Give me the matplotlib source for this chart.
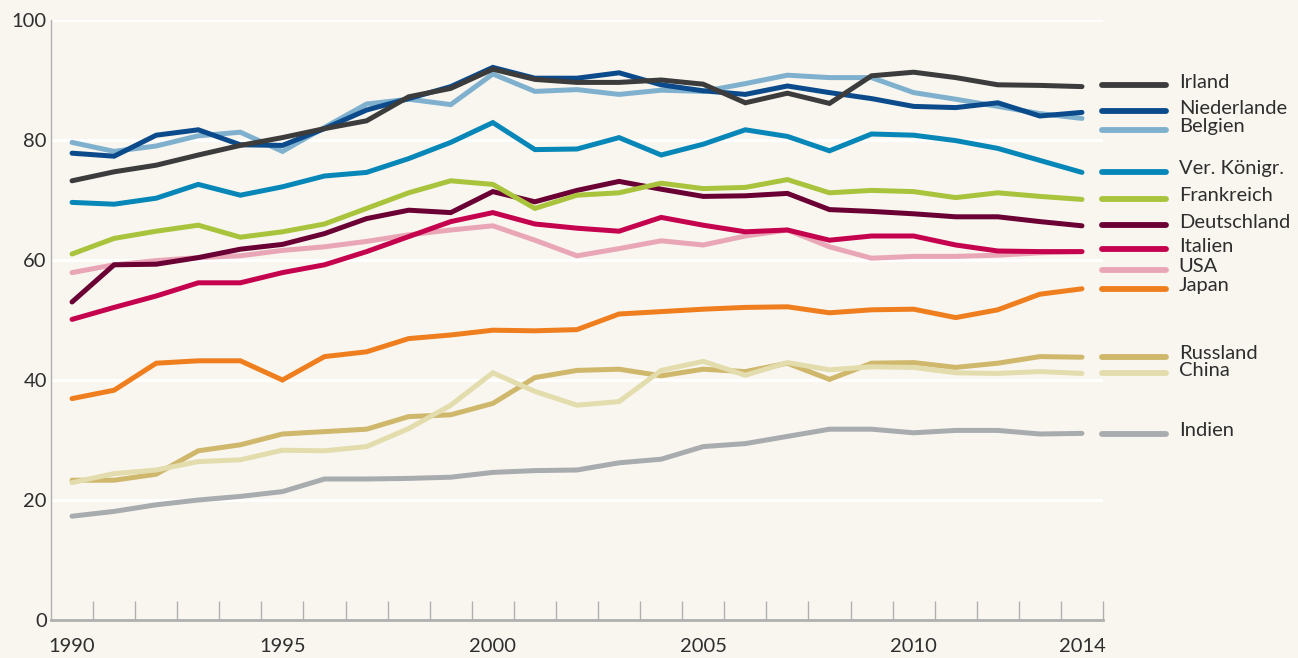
import numpy as np
import matplotlib.pyplot as plt

plt.rcParams['font.family'] = ['Lato', 'DejaVu Sans']

years = np.arange(1990, 2015)

irland = [73.2, 74.7, 75.8, 77.5, 79.1, 80.4, 81.9, 83.2, 87.2, 88.6, 91.8, 90.1,
          89.6, 89.6, 90.0, 89.3, 86.2, 87.8, 86.1, 90.7, 91.3, 90.4, 89.2, 89.1, 88.9]
niederlande = [77.8, 77.3, 80.8, 81.7, 79.2, 79.1, 81.9, 85.0, 86.9, 88.9, 92.1, 90.3,
               90.3, 91.2, 89.2, 88.2, 87.6, 89.0, 87.9, 86.9, 85.6, 85.4, 86.2, 84.0, 84.6]
belgien = [79.6, 78.1, 79.0, 80.7, 81.3, 78.1, 82.1, 86.0, 86.8, 85.9, 91.0, 88.1,
           88.4, 87.6, 88.3, 88.1, 89.4, 90.8, 90.4, 90.4, 87.9, 86.8, 85.6, 84.4, 83.6]
vk = [69.6, 69.3, 70.3, 72.6, 70.8, 72.2, 74.0, 74.6, 76.9, 79.6, 82.9, 78.4,
      78.5, 80.4, 77.5, 79.3, 81.7, 80.6, 78.2, 81.0, 80.8, 79.9, 78.6, 76.6, 74.6]
frankreich = [61.0, 63.6, 64.8, 65.8, 63.8, 64.7, 66.0, 68.6, 71.2, 73.2, 72.6, 68.6,
              70.8, 71.2, 72.8, 71.9, 72.1, 73.4, 71.2, 71.6, 71.4, 70.4, 71.2, 70.6, 70.1]
deutschland = [53.0, 59.2, 59.3, 60.4, 61.8, 62.6, 64.4, 66.9, 68.3, 67.9, 71.4, 69.7,
               71.6, 73.1, 71.8, 70.6, 70.7, 71.1, 68.4, 68.1, 67.7, 67.2, 67.2, 66.4, 65.7]
italien = [50.1, 52.1, 54.0, 56.2, 56.2, 57.9, 59.2, 61.4, 63.9, 66.4, 67.9, 66.0,
           65.3, 64.8, 67.1, 65.8, 64.7, 65.0, 63.3, 64.0, 64.0, 62.5, 61.5, 61.4, 61.4]
usa = [57.9, 59.2, 59.9, 60.4, 60.7, 61.6, 62.2, 63.1, 64.2, 65.0, 65.7, 63.3,
       60.7, 61.9, 63.2, 62.5, 64.0, 65.0, 62.2, 60.3, 60.6, 60.6, 60.8, 61.2, 61.4]
japan = [36.9, 38.3, 42.8, 43.2, 43.2, 40.0, 43.9, 44.7, 46.9, 47.5, 48.3, 48.2,
         48.4, 51.0, 51.4, 51.8, 52.1, 52.2, 51.2, 51.7, 51.8, 50.4, 51.7, 54.3, 55.2]
russland = [23.3, 23.3, 24.3, 28.2, 29.2, 31.0, 31.4, 31.8, 33.9, 34.2, 36.1, 40.4,
            41.6, 41.8, 40.7, 41.8, 41.4, 42.8, 40.1, 42.8, 42.9, 42.1, 42.8, 43.9, 43.8]
china = [22.9, 24.4, 25.0, 26.4, 26.7, 28.3, 28.2, 28.9, 31.9, 35.8, 41.2, 38.1,
         35.8, 36.4, 41.6, 43.1, 40.8, 42.9, 41.7, 42.2, 42.1, 41.2, 41.1, 41.4, 41.1]
indien = [17.3, 18.1, 19.2, 20.0, 20.6, 21.4, 23.5, 23.5, 23.6, 23.8, 24.6, 24.9,
          25.0, 26.2, 26.8, 28.9, 29.4, 30.6, 31.8, 31.8, 31.2, 31.6, 31.6, 31.0, 31.1]

names = ['Irland', 'Niederlande', 'Belgien', 'Ver. Königr.', 'Frankreich', 'Deutschland',
         'Italien', 'USA', 'Japan', 'Russland', 'China', 'Indien']
series = [irland, niederlande, belgien, vk, frankreich, deutschland,
          italien, usa, japan, russland, china, indien]
colors = ['#3c3c3c', '#0b4a8b', '#7fb1cf', '#0787b8', '#a9c43c', '#6a0033',
          '#c5024e', '#e9a6b6', '#ef7f1e', '#cfb76b', '#e3dcad', '#a9acaf']
# where the labels sit on the right (layout, not data)
label_y = [89.1, 84.8, 81.7, 74.7, 70.2, 65.8, 61.8, 58.4, 55.2, 43.9, 41.1, 31.0]
draw_order = [11, 9, 10, 8, 7, 6, 5, 4, 3, 2, 1, 0]

bg = '#f8f6ef'
fig = plt.figure(figsize=(12.98, 6.58), dpi=100, facecolor=bg)
ax = fig.add_axes([51/1298, 38/658, 1052/1298, 600/658])
ax.set_facecolor(bg)

for yv in [20, 40, 60, 80, 100]:
    ax.axhline(yv, color='white', lw=2.2, zorder=1)

for i in draw_order:
    ax.plot(years, series[i], color=colors[i], lw=3.6, solid_capstyle='round',
            solid_joinstyle='miter', zorder=3)

# labels on the right side
for i in range(len(names)):
    ax.plot([2014.48, 2016.0], [label_y[i], label_y[i]], color=colors[i], lw=4.2,
            solid_capstyle='round', clip_on=False, zorder=3)
    ax.text(2016.3, label_y[i] + 0.5, names[i], va='center', ha='left', fontsize=14.5,
            color='#2e2e2e')

ax.set_xlim(1989.5, 2014.5)
ax.set_ylim(0, 100)
ax.set_yticks([0, 20, 40, 60, 80, 100])
ax.tick_params(axis='y', length=0, labelsize=14.5, labelcolor='#2e2e2e', pad=3)

ax.set_xticks(np.arange(1990.5, 2015, 1.0))
ax.set_xticks([1990, 1995, 2000, 2005, 2010, 2014], minor=True)
ax.set_xticklabels([])
ax.set_xticklabels(['1990', '1995', '2000', '2005', '2010', '2014'], minor=True)
ax.tick_params(axis='x', which='major', direction='in', length=14, width=1, color='#b0b0b0')
ax.tick_params(axis='x', which='minor', length=0, labelsize=14.5, labelcolor='#2e2e2e', pad=13)

for s in ['top', 'right']:
    ax.spines[s].set_visible(False)
ax.spines['left'].set_color('#b0b0b0')
ax.spines['left'].set_linewidth(1)
ax.spines['bottom'].set_color('#b0b0b0')
ax.spines['bottom'].set_linewidth(2)

plt.savefig('out.png', dpi=100, facecolor=bg)
